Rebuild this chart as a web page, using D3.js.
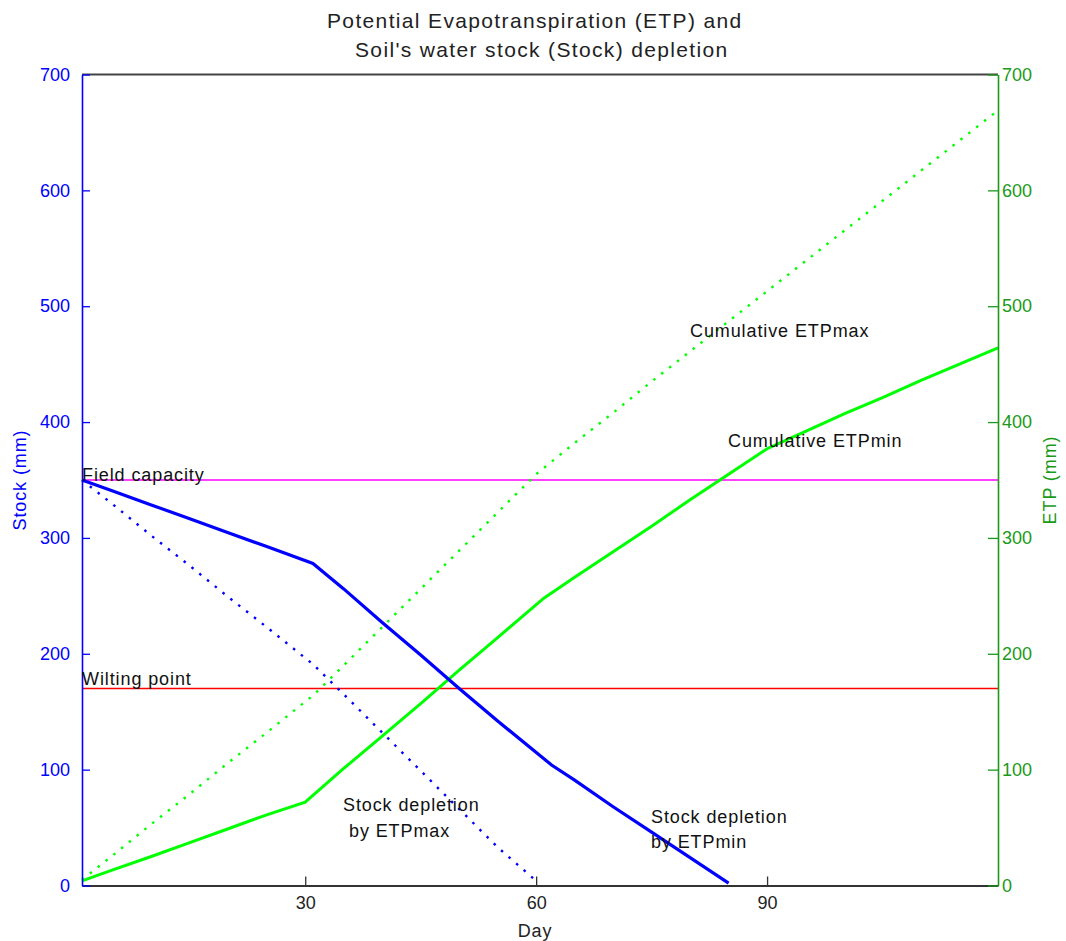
<!DOCTYPE html>
<html>
<head>
<meta charset="utf-8">
<script src="https://cdn.jsdelivr.net/npm/d3@7"></script>
<style>
  html, body { margin: 0; padding: 0; background: #fff; }
  svg { display: block; }
  text { font-family: "Liberation Sans", Arial, sans-serif; }
</style>
</head>
<body>
<svg id="chart" width="1066" height="941"></svg>
<script>
// ---- Data ----
const titleLines = ["Potential Evapotranspiration (ETP) and", "Soil's water stock (Stock) depletion"];
const xTicks = [30, 60, 90];
const yTicks = [0, 100, 200, 300, 400, 500, 600, 700];

const etpMinDays = [1, 5, 10, 15, 20, 25, 30, 35, 40, 45, 50, 55, 61, 65, 70, 75, 80, 85, 90, 95, 100, 105, 110, 115, 120];
const etpMinVals = [4, 13.5, 25, 37, 49, 61, 72, 101, 129, 157, 186, 214, 248, 266, 288, 310, 333, 355, 377, 392, 407, 421, 436, 450, 464];

const etpMaxDays = [1, 5, 10, 15, 20, 25, 31, 35, 40, 45, 50, 55, 60, 65, 70, 75, 80, 85, 90, 95, 100, 105, 110, 115, 120];
const etpMaxVals = [5, 26, 53, 79, 106, 132, 164, 190, 223, 256, 289, 322, 355, 382, 408, 435, 461, 487, 513, 539, 565, 591, 617, 643, 669];

const stockMaxDays = [1, 5, 10, 15, 20, 25, 31, 35, 40, 45, 50, 55, 60];
const stockMaxVals = [350, 329, 302, 276, 249, 223, 191, 165, 132, 99, 66, 33, 4];

const stockMinDays = [1, 5, 10, 15, 20, 25, 31, 35, 40, 45, 50, 55, 62, 65, 70, 75, 80, 85];
const stockMinVals = [350, 340.5, 328.5, 316.5, 304.5, 292.5, 278, 256, 227, 199, 170, 142, 104, 91, 68, 46, 24, 2];

const fieldCapacity = 350;
const wiltingPoint = 170;

// ---- Layout ----
const L = 82, R = 998, T = 74.5, B = 885.5;
const svg = d3.select("#chart");

const x = d3.scaleLinear().domain([1, 120]).range([L, R]);
const yStock = d3.scaleLinear().domain([0, 700]).range([B, T]);
const yEtp = d3.scaleLinear().domain([0, 700]).range([B, T]);

const BLUE = "#0000ff", GREEN = "#00ff00", AXGREEN = "#1a9a1a";

// Title
svg.append("text").attr("x", 327).attr("y", 28).attr("font-size", 21)
  .attr("letter-spacing", 1.35).attr("fill", "#222").text(titleLines[0]);
svg.append("text").attr("x", 355).attr("y", 57).attr("font-size", 21)
  .attr("letter-spacing", 1.35).attr("fill", "#222").text(titleLines[1]);

// Reference lines
svg.append("line").attr("x1", L).attr("x2", R)
  .attr("y1", yStock(fieldCapacity)).attr("y2", yStock(fieldCapacity))
  .attr("stroke", "#ff00ff").attr("stroke-width", 1.6);
svg.append("line").attr("x1", L).attr("x2", R)
  .attr("y1", yStock(wiltingPoint)).attr("y2", yStock(wiltingPoint))
  .attr("stroke", "#ff0000").attr("stroke-width", 1.6);

// Lines
const mk = (days, vals) => days.map((d, i) => [d, vals[i]]);
const lineStock = d3.line().x(d => x(d[0])).y(d => yStock(d[1]));
const lineEtp = d3.line().x(d => x(d[0])).y(d => yEtp(d[1]));

svg.append("path").datum(mk(etpMaxDays, etpMaxVals)).attr("d", lineEtp)
  .attr("fill", "none").attr("stroke", GREEN).attr("stroke-width", 2.4)
  .attr("stroke-dasharray", "2.5,7.5");
svg.append("path").datum(mk(stockMaxDays, stockMaxVals)).attr("d", lineStock)
  .attr("fill", "none").attr("stroke", BLUE).attr("stroke-width", 2.4)
  .attr("stroke-dasharray", "2.5,7.5");
svg.append("path").datum(mk(etpMinDays, etpMinVals)).attr("d", lineEtp)
  .attr("fill", "none").attr("stroke", GREEN).attr("stroke-width", 3);
svg.append("path").datum(mk(stockMinDays, stockMinVals)).attr("d", lineStock)
  .attr("fill", "none").attr("stroke", BLUE).attr("stroke-width", 3.2);

// Frame: top border
svg.append("line").attr("x1", L).attr("x2", R).attr("y1", T).attr("y2", T)
  .attr("stroke", "#444").attr("stroke-width", 1.8);

// Bottom axis
const gx = svg.append("g").attr("transform", `translate(0,${B})`)
  .call(d3.axisBottom(x).tickValues(xTicks).tickSizeInner(-9).tickSizeOuter(0).tickPadding(11));
gx.select(".domain").attr("stroke", "#333").attr("stroke-width", 1.8);
gx.selectAll(".tick line").attr("stroke", "#333").attr("stroke-width", 1.3);
gx.selectAll(".tick text").attr("font-size", 18).attr("fill", "#222")
  .attr("font-family", "Liberation Sans, Arial, sans-serif");

// Left axis
const gl = svg.append("g").attr("transform", `translate(${L},0)`)
  .call(d3.axisLeft(yStock).tickValues(yTicks).tickSizeInner(-8).tickSizeOuter(0).tickPadding(12));
gl.select(".domain").attr("stroke", BLUE).attr("stroke-width", 1.6);
gl.selectAll(".tick line").attr("stroke", BLUE).attr("stroke-width", 1.3);
gl.selectAll(".tick text").attr("font-size", 18).attr("fill", BLUE)
  .attr("font-family", "Liberation Sans, Arial, sans-serif");

// Right axis
const gr = svg.append("g").attr("transform", `translate(${R},0)`)
  .call(d3.axisRight(yEtp).tickValues(yTicks).tickSizeInner(-10).tickSizeOuter(0).tickPadding(4));
gr.select(".domain").attr("stroke", AXGREEN).attr("stroke-width", 1.6);
gr.selectAll(".tick line").attr("stroke", AXGREEN).attr("stroke-width", 1.3);
gr.selectAll(".tick text").attr("font-size", 18).attr("fill", AXGREEN)
  .attr("font-family", "Liberation Sans, Arial, sans-serif");

// Axis titles
svg.append("text").attr("x", 535).attr("y", 937).attr("text-anchor", "middle")
  .attr("font-size", 18).attr("letter-spacing", 0.9).attr("fill", "#222").text("Day");
svg.append("text").attr("transform", "translate(26,480) rotate(-90)").attr("text-anchor", "middle")
  .attr("font-size", 18).attr("letter-spacing", 0.9).attr("fill", BLUE).text("Stock (mm)");
svg.append("text").attr("transform", "translate(1056,480) rotate(-90)").attr("text-anchor", "middle")
  .attr("font-size", 18).attr("letter-spacing", 0.9).attr("fill", AXGREEN).text("ETP (mm)");

// Annotations
const ann = [
  ["Field capacity", 82, 481],
  ["Wilting point", 82, 685],
  ["Stock depletion", 343, 811],
  ["by ETPmax", 349, 837],
  ["Stock depletion", 651, 823],
  ["by ETPmin", 651, 848],
  ["Cumulative ETPmax", 690, 337],
  ["Cumulative ETPmin", 728, 447]
];
svg.selectAll("text.ann").data(ann).enter().append("text")
  .attr("class", "ann").attr("x", d => d[1]).attr("y", d => d[2])
  .attr("font-size", 18).attr("letter-spacing", 0.9).attr("fill", "#111")
  .text(d => d[0]);
</script>
</body>
</html>
